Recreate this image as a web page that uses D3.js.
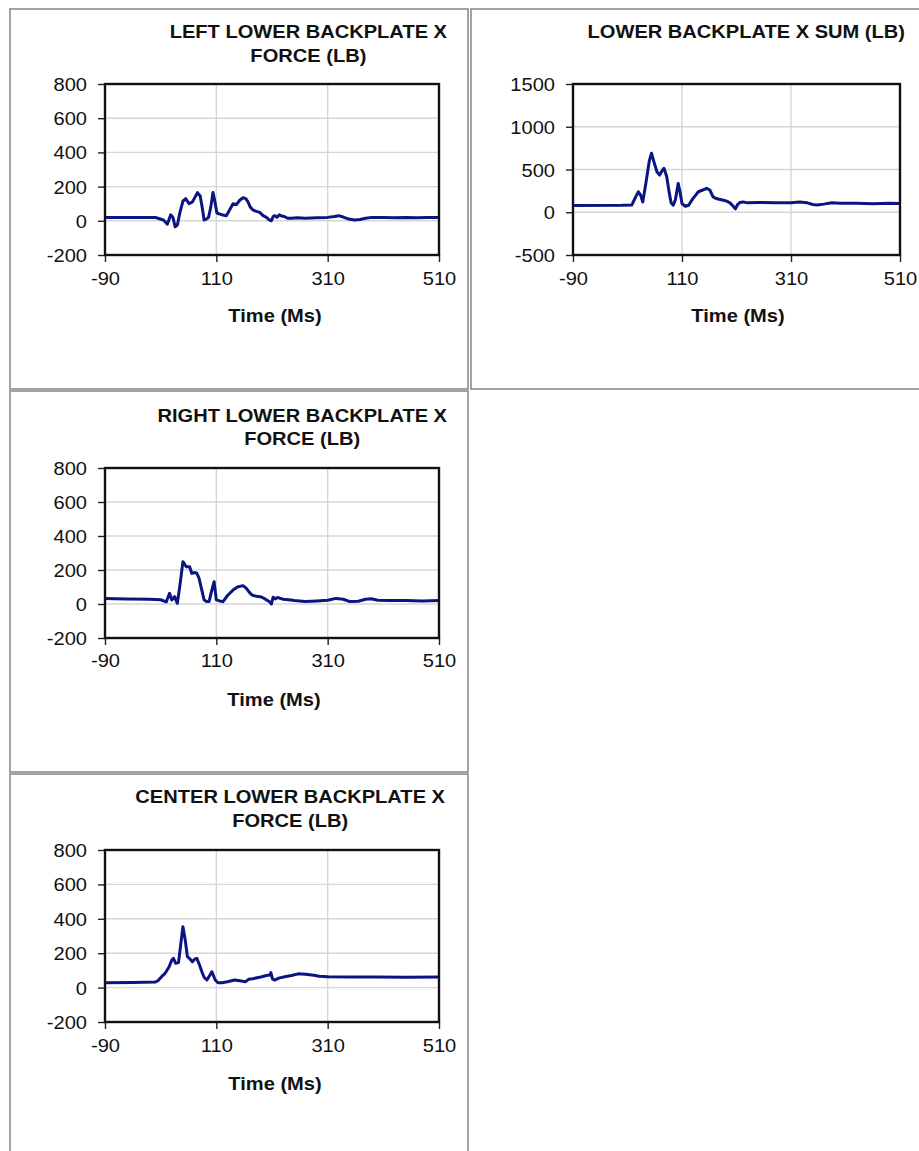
<!DOCTYPE html>
<html>
<head>
<meta charset="utf-8">
<script src="https://cdn.jsdelivr.net/npm/d3@7"></script>
<style>
  html, body { margin: 0; padding: 0; background: #ffffff; }
  svg { display: block; font-family: "Liberation Sans", Arial, sans-serif; }
</style>
</head>
<body>
<svg id="sheet" width="919" height="1151"></svg>
<script>
// ---- Data: backplate X-force traces (time in ms, force in lb) ----
const leftTime  = [-90, 0, 5, 15, 22, 28, 32, 36, 40, 44, 50, 55, 61, 67, 72, 76, 81, 85, 88, 92, 96, 100, 104, 107, 111, 116, 120, 128, 135, 140, 146, 152, 158, 163, 167, 171, 176, 182, 188, 194, 200, 205, 209, 212, 215, 219, 223, 227, 232, 238, 245, 255, 270, 290, 310, 322, 330, 338, 348, 358, 368, 378, 390, 410, 430, 450, 470, 490, 510];
const leftForce = [20, 20, 15, 5, -20, 35, 20, -35, -25, 40, 115, 130, 100, 110, 140, 165, 145, 70, 5, 10, 20, 80, 165, 120, 45, 40, 35, 30, 70, 100, 95, 120, 135, 130, 110, 80, 63, 55, 49, 30, 20, 5, 0, 25, 30, 20, 35, 28, 25, 15, 15, 18, 15, 18, 20, 25, 30, 22, 10, 5, 8, 15, 20, 20, 18, 20, 18, 20, 20];

const sumTime  = [-90, 0, 18, 25, 30, 34, 38, 44, 50, 54, 58, 64, 69, 74, 77, 82, 86, 90, 94, 98, 103, 106, 110, 116, 122, 130, 140, 148, 155, 161, 167, 173, 180, 186, 192, 198, 204, 208, 212, 216, 222, 230, 250, 280, 310, 326, 340, 350, 358, 370, 385, 400, 430, 460, 490, 510];
const sumForce = [80, 82, 85, 180, 240, 200, 120, 350, 600, 690, 600, 474, 435, 490, 514, 415, 250, 110, 82, 150, 337, 250, 102, 70, 82, 160, 240, 260, 280, 260, 180, 160, 150, 140, 130, 110, 70, 40, 90, 114, 121, 110, 114, 110, 110, 120, 110, 90, 85, 95, 110, 105, 105, 100, 105, 102];

const rightTime  = [-90, -50, -10, 10, 20, 26, 30, 35, 40, 45, 50, 56, 62, 66, 72, 75, 79, 84, 88, 93, 97, 101, 106, 110, 116, 122, 130, 140, 148, 158, 164, 169, 174, 182, 189, 195, 200, 205, 209, 212, 216, 220, 225, 230, 240, 250, 270, 290, 310, 325, 338, 350, 365, 378, 388, 400, 420, 450, 480, 510];
const rightForce = [33, 30, 28, 25, 12, 63, 24, 43, 4, 120, 249, 219, 219, 180, 185, 180, 151, 80, 24, 14, 14, 70, 131, 24, 18, 14, 50, 82, 100, 108, 92, 70, 53, 45, 43, 35, 24, 15, 0, 40, 30, 38, 33, 28, 25, 20, 15, 18, 22, 33, 28, 14, 16, 28, 31, 22, 20, 20, 18, 20];

const centerTime  = [-90, -40, 0, 5, 12, 18, 25, 30, 33, 37, 42, 46, 50, 54, 58, 63, 67, 71, 75, 80, 84, 88, 93, 98, 102, 108, 113, 120, 130, 143, 155, 162, 168, 175, 190, 200, 206, 208, 211, 215, 222, 233, 245, 257, 270, 285, 295, 310, 350, 400, 450, 510];
const centerForce = [28, 30, 32, 40, 65, 83, 120, 160, 170, 141, 145, 250, 354, 280, 180, 165, 150, 165, 170, 130, 92, 60, 44, 70, 92, 44, 28, 28, 34, 44, 38, 34, 48, 52, 62, 70, 73, 87, 50, 44, 55, 63, 70, 80, 78, 72, 66, 63, 62, 62, 60, 62];

// ---- Axis ticks and labels ----
const timeTicks  = [-90, 110, 310, 510];
const forceTicks = [-200, 0, 200, 400, 600, 800];
const sumTicks   = [-500, 0, 500, 1000, 1500];
const timeLabel  = "Time (Ms)";

const leftTitle   = ["LEFT LOWER BACKPLATE X", "FORCE (LB)"];
const sumTitle    = ["LOWER BACKPLATE X SUM (LB)"];
const rightTitle  = ["RIGHT LOWER BACKPLATE X", "FORCE (LB)"];
const centerTitle = ["CENTER LOWER BACKPLATE X", "FORCE (LB)"];

// ---- Layout ----
const STRETCH = 1.08;       // horizontal text stretch of the printed report
const FONT = 18.6;
const LINE_COLOR = "#0b1582";
const plainNumber = d => String(d);

const svg = d3.select("#sheet");

// table cell frames
const cells = [
  [10, 9, 468, 389],
  [471, 9, 925, 389],
  [10, 391, 468, 772],
  [10, 774, 468, 1160]
];
svg.append("g").selectAll("rect").data(cells).join("rect")
  .attr("x", d => d[0]).attr("y", d => d[1])
  .attr("width", d => d[2] - d[0]).attr("height", d => d[3] - d[1])
  .attr("fill", "none").attr("stroke", "#8c8c8c").attr("stroke-width", 1.6);

function stretchedText(g, str, x, y, anchor, weight) {
  return g.append("text")
    .attr("transform", `translate(${x},${y}) scale(${STRETCH},1)`)
    .attr("text-anchor", anchor)
    .attr("font-size", FONT)
    .attr("font-weight", weight)
    .attr("fill", "#111")
    .text(str);
}

function drawChart(opt) {
  const { time, force, ticks, domain, title, plot, titleRight, titleBase,
          tickBase, labelX, labelBase } = opt;
  const g = svg.append("g");
  const x = d3.scaleLinear().domain([-90, 510]).range([plot.x0, plot.x1]);
  const y = d3.scaleLinear().domain(domain).range([plot.y1, plot.y0]);

  // grid
  g.append("g").selectAll("line.h").data(ticks.slice(1, -1)).join("line")
    .attr("x1", plot.x0).attr("x2", plot.x1)
    .attr("y1", d => y(d)).attr("y2", d => y(d))
    .attr("stroke", "#d6d6d6").attr("stroke-width", 1.4);
  g.append("g").selectAll("line.v").data(timeTicks.slice(1, -1)).join("line")
    .attr("y1", plot.y0).attr("y2", plot.y1)
    .attr("x1", d => x(d)).attr("x2", d => x(d))
    .attr("stroke", "#d6d6d6").attr("stroke-width", 1.4);

  // series
  const clipId = "clip" + Math.round(plot.x0) + "_" + Math.round(plot.y0);
  g.append("clipPath").attr("id", clipId).append("rect")
    .attr("x", plot.x0).attr("y", plot.y0)
    .attr("width", plot.x1 - plot.x0).attr("height", plot.y1 - plot.y0);
  const pts = time.map((t, i) => [t, force[i]]);
  g.append("path").datum(pts)
    .attr("clip-path", `url(#${clipId})`)
    .attr("fill", "none").attr("stroke", LINE_COLOR)
    .attr("stroke-width", 3).attr("stroke-linejoin", "round")
    .attr("d", d3.line().x(d => x(d[0])).y(d => y(d[1])));

  // axes
  const yAxis = g.append("g").attr("transform", `translate(${plot.x0},0)`)
    .call(d3.axisLeft(y).tickValues(ticks).tickFormat(plainNumber)
      .tickSize(7).tickPadding(11).tickSizeOuter(0));
  const xAxis = g.append("g").attr("transform", `translate(0,${plot.y1})`)
    .call(d3.axisBottom(x).tickValues(timeTicks).tickFormat(plainNumber)
      .tickSize(7).tickPadding(0).tickSizeOuter(0));
  [yAxis, xAxis].forEach(ax => {
    ax.select(".domain").remove();
    ax.selectAll(".tick line").attr("stroke", "#222").attr("stroke-width", 1.4);
    ax.selectAll(".tick text").attr("font-size", FONT).attr("fill", "#111")
      .attr("font-family", null);
  });
  yAxis.selectAll(".tick text").each(function () {
    const t = d3.select(this);
    const x0 = +t.attr("x");
    t.attr("x", x0 / STRETCH).attr("dy", "0.35em")
      .attr("transform", `scale(${STRETCH},1)`);
  });
  xAxis.selectAll(".tick text").each(function () {
    d3.select(this).attr("y", tickBase - plot.y1).attr("dy", 0)
      .attr("transform", `scale(${STRETCH},1)`);
  });

  // plot frame
  g.append("rect").attr("x", plot.x0).attr("y", plot.y0)
    .attr("width", plot.x1 - plot.x0).attr("height", plot.y1 - plot.y0)
    .attr("fill", "none").attr("stroke", "#111").attr("stroke-width", 2.4);

  // title: lines centred within a right-aligned block
  const lines = title.map((s, i) => stretchedText(g, s, 0, titleBase + i * 23.4, "middle", "bold"));
  const widths = lines.map(l => l.node().getComputedTextLength() * STRETCH);
  const cx = titleRight - d3.max(widths) / 2;
  lines.forEach((l, i) => l.attr("transform",
    `translate(${cx},${titleBase + i * 23.4}) scale(${STRETCH},1)`));

  // axis title
  stretchedText(g, timeLabel, labelX, labelBase, "middle", "bold");
}

drawChart({ time: leftTime, force: leftForce, ticks: forceTicks, domain: [-200, 800],
  title: leftTitle, plot: { x0: 105, x1: 439, y0: 84, y1: 255 },
  titleRight: 447, titleBase: 38.3, tickBase: 285, labelX: 275, labelBase: 321.7 });

drawChart({ time: sumTime, force: sumForce, ticks: sumTicks, domain: [-500, 1500],
  title: sumTitle, plot: { x0: 573, x1: 900, y0: 84, y1: 255 },
  titleRight: 905, titleBase: 38.3, tickBase: 285, labelX: 738, labelBase: 321.7 });

drawChart({ time: rightTime, force: rightForce, ticks: forceTicks, domain: [-200, 800],
  title: rightTitle, plot: { x0: 105, x1: 439, y0: 468, y1: 638 },
  titleRight: 447, titleBase: 421.7, tickBase: 667, labelX: 274, labelBase: 706 });

drawChart({ time: centerTime, force: centerForce, ticks: forceTicks, domain: [-200, 800],
  title: centerTitle, plot: { x0: 105, x1: 439, y0: 850, y1: 1022 },
  titleRight: 445, titleBase: 803.3, tickBase: 1052, labelX: 275, labelBase: 1090 });
</script>
</body>
</html>
